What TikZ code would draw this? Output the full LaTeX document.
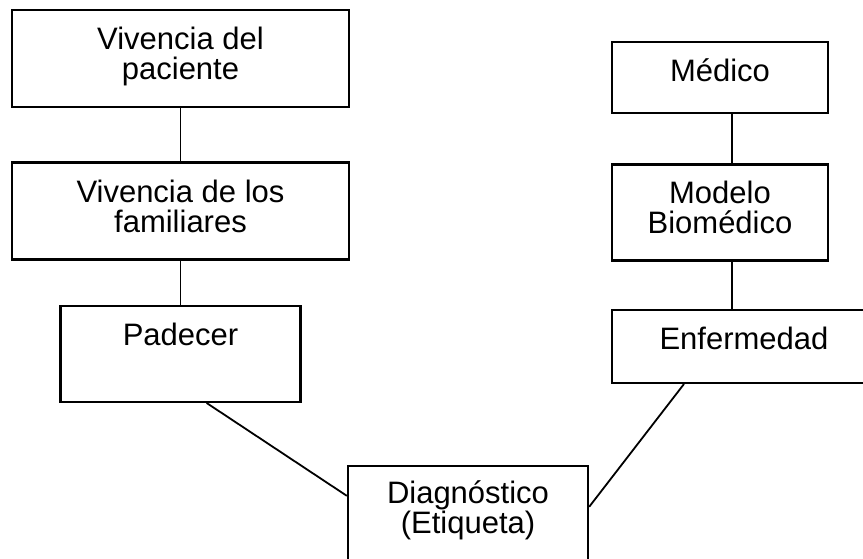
\documentclass[tikz,border=0pt]{standalone}
\usepackage{fontspec}
\setmainfont{Liberation Sans}
\usetikzlibrary{calc,positioning}

\begin{document}
\begin{tikzpicture}[x=1pt,y=-1pt,
  every node/.style={draw,align=center,line width=2.4pt,inner sep=0pt,
    font=\fontsize{31}{30}\selectfont},
  twolines/.style={text height=52pt,text depth=9pt},
  oneline/.style={text height=22pt,text depth=14pt},
  connector/.style={line width=1.8pt}]
\useasboundingbox (0,0) rectangle (863,559);
% lado del paciente
\node [twolines,minimum width=337pt,minimum height=97pt] (VivPaciente) at (180.5,58.5) {Vivencia del\\paciente};
\node [twolines,minimum width=337pt,minimum height=97pt,below=53pt of VivPaciente] (VivFamiliares) {Vivencia de los\\familiares};
\node [text height=22pt,text depth=38pt,minimum width=240pt,minimum height=96pt,below=44pt of VivFamiliares] (Padecer) {Padecer};
% lado del medico
\node [oneline,minimum width=216pt,minimum height=71pt] (Medico) at (720,77.5) {Médico};
\node [twolines,minimum width=216pt,minimum height=96pt,below=49pt of Medico] (ModeloBio) {Modelo\\Biomédico};
\node [oneline,text depth=15pt,minimum width=264pt,minimum height=73pt,below right=47pt and 0pt of ModeloBio.south west] (Enfermedad) {Enfermedad};
% diagnostico
\node [text height=52pt,text depth=48pt,minimum width=240pt,minimum height=130pt] (Diagnostico) at (468,531) {Diagnóstico\\(Etiqueta)};
\draw [connector] (VivPaciente.south) -- (VivFamiliares.north);
\draw [connector] (VivFamiliares.south) -- (Padecer.north);
\draw [connector] ([xshift=12pt]Medico.south) -- ([xshift=12pt]ModeloBio.north);
\draw [connector] ([xshift=12pt]ModeloBio.south) -- ([xshift=-12pt]Enfermedad.north);
\draw [connector] (Padecer.-62.5) -- ([yshift=-31pt]Diagnostico.north west);
\draw [connector] ([yshift=-42pt]Diagnostico.north east) -- ([xshift=-60pt]Enfermedad.south);
\end{tikzpicture}
\end{document}
